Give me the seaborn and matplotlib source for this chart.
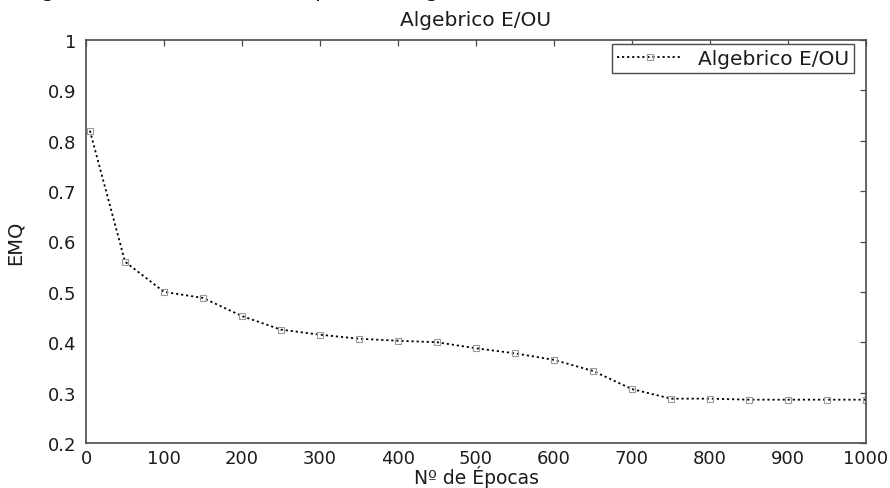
import matplotlib
matplotlib.use("Agg")
import matplotlib.pyplot as plt
from matplotlib.ticker import FixedLocator, FixedFormatter
import pandas as pd
import seaborn as sns

# Training curve: mean squared error (EMQ) against number of epochs
epocas = [5, 50, 100, 150, 200, 250, 300, 350, 400, 450, 500,
          550, 600, 650, 700, 750, 800, 850, 900, 950, 1000]
emq = [0.82, 0.56, 0.50, 0.488, 0.452, 0.425, 0.415, 0.407, 0.403, 0.400, 0.388,
       0.378, 0.365, 0.343, 0.307, 0.288, 0.288, 0.286, 0.286, 0.286, 0.286]
serie = "Algebrico E/OU"

x_ticks = [0, 100, 200, 300, 400, 500, 600, 700, 800, 900, 1000]
x_tick_labels = ["0", "100", "200", "300", "400", "500", "600", "700", "800", "900", "1000"]
y_ticks = [0.2, 0.3, 0.4, 0.5, 0.6, 0.7, 0.8, 0.9, 1.0]
y_tick_labels = ["0.2", "0.3", "0.4", "0.5", "0.6", "0.7", "0.8", "0.9", "1"]

sns.set_style("white")
plt.rcParams["font.family"] = ["DejaVu Sans"]
plt.rcParams["text.color"] = "#1c1c1c"
plt.rcParams["axes.labelcolor"] = "#1c1c1c"

df = pd.DataFrame({"epocas": epocas, "emq": emq, "serie": serie})

W, H = 890, 489
fig = plt.figure(figsize=(W / 100, H / 100), dpi=100)
left, right, top, bottom = 86, 866, 41, 444
ax = fig.add_axes([left / W, 1 - bottom / H, (right - left) / W, (bottom - top) / H])

sns.lineplot(data=df, x="epocas", y="emq", hue="serie", palette=["black"],
             marker="s", markersize=4.5, markerfacecolor="none",
             markeredgecolor="#9a9a9a", markeredgewidth=0.8,
             linewidth=1.3, ax=ax)
for ln in ax.get_lines():
    ln.set_dashes((1.2, 1.6))

ax.set_xlim(0, 1000)
ax.set_ylim(0.2, 1.0)
ax.xaxis.set_major_locator(FixedLocator(x_ticks))
ax.xaxis.set_major_formatter(FixedFormatter(x_tick_labels))
ax.yaxis.set_major_locator(FixedLocator(y_ticks))
ax.yaxis.set_major_formatter(FixedFormatter(y_tick_labels))

for s in ax.spines.values():
    s.set_visible(True)
    s.set_color("#4a4a4a")
    s.set_linewidth(1.2)

ax.tick_params(axis="both", which="major", direction="in", length=4,
               width=0.9, color="#4a4a4a", labelsize=13, labelcolor="#1c1c1c",
               top=True, right=True)
ax.tick_params(axis="x", pad=4)
ax.tick_params(axis="y", pad=7)

ax.set_title(serie, fontsize=14.5, pad=11, color="#1c1c1c")
ax.set_xlabel("Nº de Épocas", fontsize=13.5)
ax.set_ylabel("EMQ", fontsize=14)
ax.xaxis.set_label_coords(0.5, -(466 - bottom) / (bottom - top))
ax.yaxis.set_label_coords(-(left - 25) / (right - left), 0.5)

handles, labels = ax.get_legend_handles_labels()
leg = ax.legend(handles, [serie], loc="upper right",
                bbox_to_anchor=((854 - left) / (right - left), 1 - 4 / (bottom - top)),
                borderaxespad=0, fontsize=14.5, frameon=True, fancybox=False,
                framealpha=1, edgecolor="#4a4a4a", borderpad=0.25,
                handlelength=3.2, handletextpad=0.8)
leg.get_frame().set_linewidth(1.0)

# Descenders of the caption line above the plot, cut by the page edge
for xp, ch in [(42, "g"), (315, "p"), (426, "g"), (539, ",")]:
    fig.text(xp / W, 1.0 + 3 / H, ch, fontsize=15, family="DejaVu Serif",
             style="italic", va="baseline", ha="left", color="#111111")

fig.savefig("out.png", dpi=100)
